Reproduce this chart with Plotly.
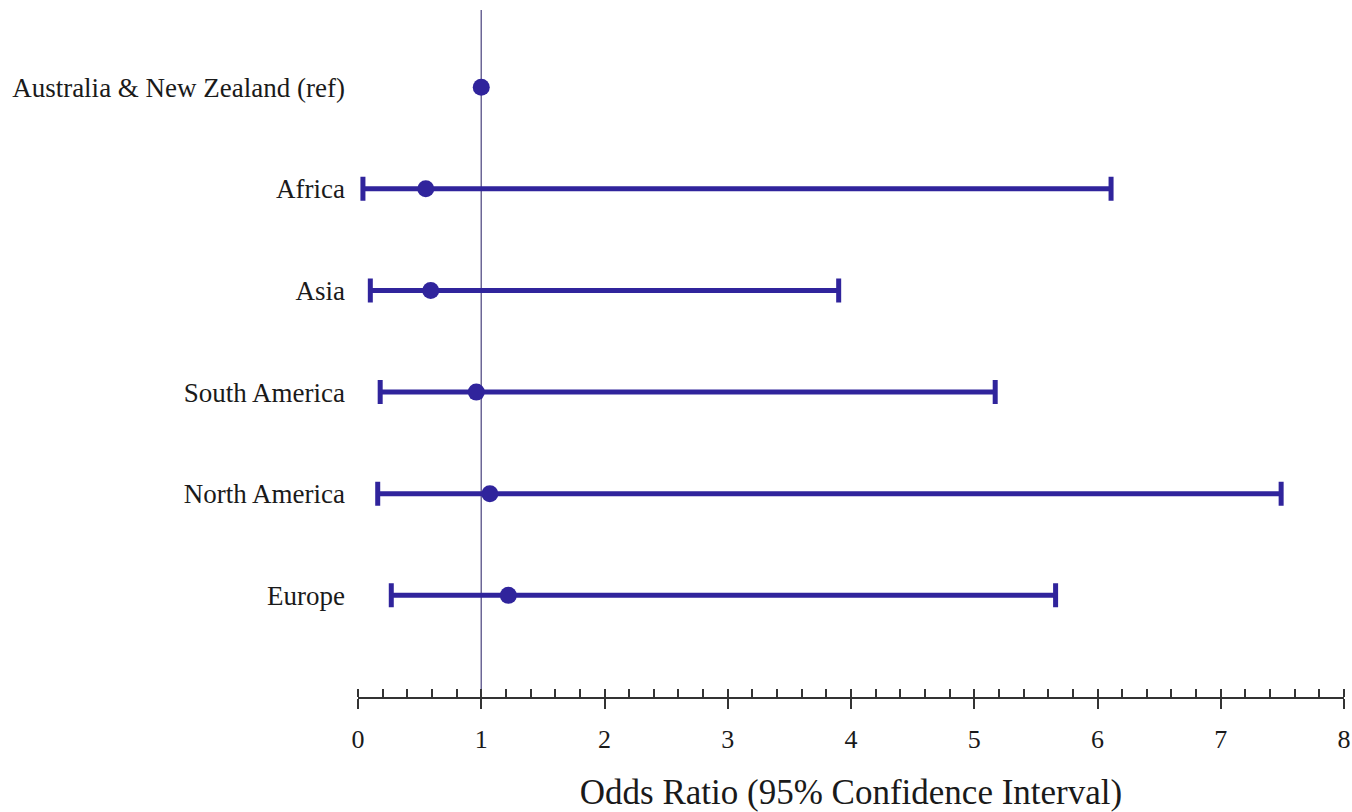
import plotly.graph_objects as go

regions = ["Europe", "North America", "South America", "Asia", "Africa", "Australia & New Zealand (ref)"]
odds = [1.22, 1.07, 0.96, 0.59, 0.55, 1.0]
lower = [0.27, 0.16, 0.18, 0.10, 0.04, None]
upper = [5.66, 7.49, 5.17, 3.90, 6.11, None]
ref_value = 1.0

pos = list(range(1, len(regions) + 1))
color = "rgb(48,36,156)"
err_plus = [(u - o) if u is not None else 0 for u, o in zip(upper, odds)]
err_minus = [(o - l) if l is not None else 0 for l, o in zip(lower, odds)]

fig = go.Figure()
ci_idx = [i for i in range(len(regions)) if lower[i] is not None]
fig.add_trace(go.Scatter(
    x=[odds[i] for i in ci_idx], y=[pos[i] for i in ci_idx], mode="markers",
    marker=dict(size=17, color=color),
    error_x=dict(type="data", symmetric=False,
                 array=[err_plus[i] for i in ci_idx],
                 arrayminus=[err_minus[i] for i in ci_idx],
                 color=color, thickness=5, width=12),
    showlegend=False, hoverinfo="skip"))
ref_idx = [i for i in range(len(regions)) if lower[i] is None]
fig.add_trace(go.Scatter(
    x=[odds[i] for i in ref_idx], y=[pos[i] for i in ref_idx], mode="markers",
    marker=dict(size=17, color=color), showlegend=False, hoverinfo="skip"))

ymax = 6.76
fig.add_shape(type="line", x0=ref_value, x1=ref_value, y0=0, y1=ymax,
              xref="x", yref="y", line=dict(color="rgb(108,102,150)", width=1.5), layer="below")

font_family = "Liberation Serif, Times New Roman, serif"
fig.update_layout(
    width=1352, height=812,
    margin=dict(l=358, r=8, t=10, b=115, autoexpand=False),
    plot_bgcolor="white", paper_bgcolor="white",
    font=dict(family=font_family, color="#1a1a1a", size=26),
    xaxis=dict(range=[0, 8], dtick=1, tick0=0, showgrid=False, zeroline=False,
               automargin=False,
               showline=True, linecolor="#333333", linewidth=2,
               ticks="outside", ticklen=10, tickwidth=2, tickcolor="#333333",
               ticklabelstandoff=8,
               tickfont=dict(size=26, family=font_family),
               minor=dict(dtick=0.2, ticks="inside", ticklen=8, tickwidth=2, tickcolor="#333333", showgrid=False),
               title=dict(text="Odds Ratio (95% Confidence Interval)", standoff=30,
                          font=dict(size=35, family=font_family))),
    yaxis=dict(range=[0, ymax], tickvals=pos, ticktext=regions, showgrid=False, zeroline=False,
               automargin=False,
               showline=False, ticks="", ticklabelstandoff=12,
               tickfont=dict(size=27, family=font_family)),
)
fig.write_html("out.html")
